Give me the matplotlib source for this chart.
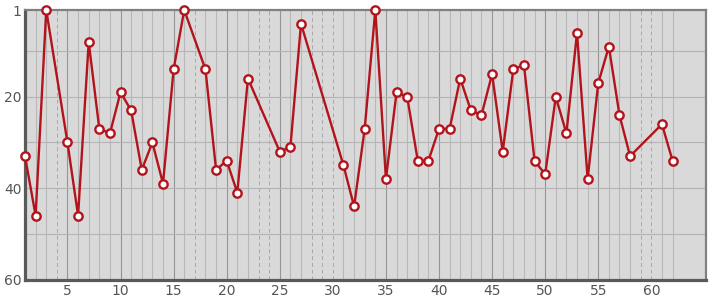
import matplotlib
matplotlib.use("Agg")
import matplotlib.pyplot as plt

x_vals = [1, 2, 3, 5, 6, 7, 8, 9, 10, 11, 12, 13, 14, 15, 16, 18, 19, 20, 21, 22,
          25, 26, 27, 31, 32, 33, 34, 35, 36, 37, 38, 39, 40, 41, 42, 43, 44, 45,
          46, 47, 48, 49, 50, 51, 52, 53, 54, 55, 56, 57, 58, 61, 62]
ranks = [33, 46, 1, 30, 46, 8, 27, 28, 19, 23, 36, 30, 39, 14, 1, 14, 36, 34, 41, 16,
         32, 31, 4, 35, 44, 27, 1, 38, 19, 20, 34, 34, 27, 27, 16, 23, 24, 15,
         32, 14, 13, 34, 37, 20, 28, 6, 38, 17, 9, 24, 33, 26, 34]
missing_x = [4, 17, 23, 24, 28, 29, 30, 59, 60]
x_ticks = [5, 10, 15, 20, 25, 30, 35, 40, 45, 50, 55, 60]
y_ticks = [1, 20, 40, 60]
y_grid = [10, 20, 30, 40, 50]

fig = plt.figure(figsize=(7.15, 3.0), dpi=100)
ax = fig.add_axes([25/715, 1 - 279.5/300, (706 - 25)/715, (279.5 - 10)/300])
ax.set_facecolor("#d9d9d9")
ax.set_xlim(1, 65.15)
ax.set_ylim(60, 1)

for xv in range(2, 63):
    if xv in missing_x:
        ax.axvline(xv, color="#a8a8a8", lw=0.7, ls=(0, (4, 3)), zorder=1)
    elif xv % 5 == 0:
        ax.axvline(xv, color="#959595", lw=0.8, zorder=1)
    else:
        ax.axvline(xv, color="#b8b8b8", lw=0.8, zorder=1)
for yv in y_grid:
    ax.axhline(yv, color="#b4b4b4", lw=0.8, zorder=1)

ax.plot(x_vals, ranks, color="#b3131b", lw=1.7, marker="o", ms=6.0,
        mfc="white", mec="#b3131b", mew=1.7, zorder=3, clip_on=False)

ax.set_xticks(x_ticks)
ax.set_yticks(y_ticks)
ax.tick_params(length=0, labelsize=10, colors="#555555")
ax.tick_params(axis="x", pad=3.5)
ax.tick_params(axis="y", pad=2.5)

for side in ["left", "bottom"]:
    ax.spines[side].set_color("#5a5a5a")
    ax.spines[side].set_linewidth(2.3)
for side in ["top", "right"]:
    ax.spines[side].set_color("#808080")
    ax.spines[side].set_linewidth(1.6)

fig.savefig("out.png", dpi=100)
